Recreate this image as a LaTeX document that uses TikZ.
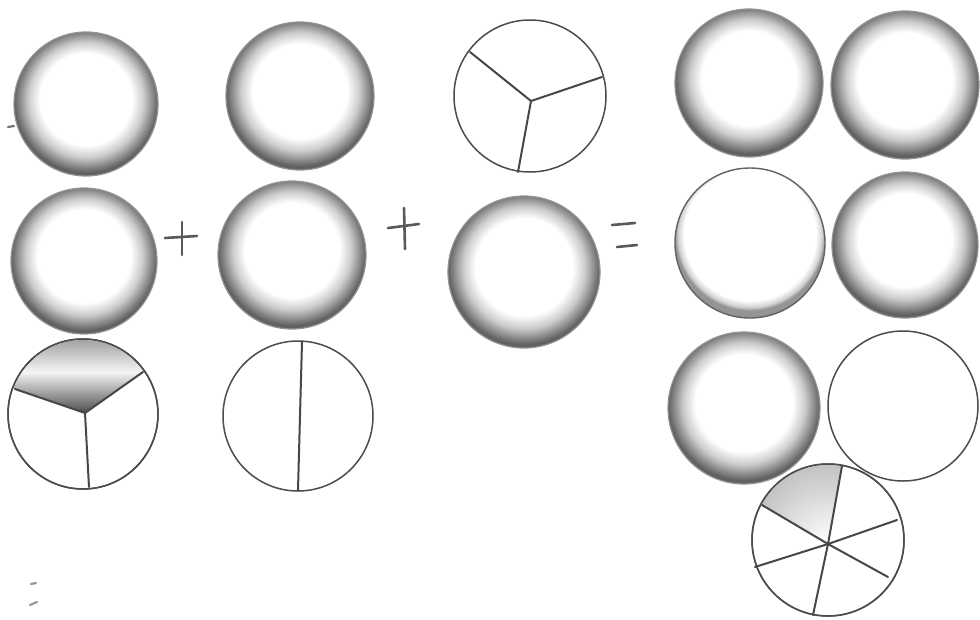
\documentclass[tikz,border=0pt]{standalone}
\pgfdeclareradialshading{rim}{\pgfpoint{0bp}{2.5bp}}{color(0bp)=(white); color(16bp)=(white); color(20bp)=(black!20); color(23bp)=(black!45); color(25bp)=(black!62); color(50bp)=(black!62)}
\pgfdeclareradialshading{lowrim}{\pgfpoint{0bp}{5bp}}{color(0bp)=(white); color(22bp)=(white); color(24bp)=(black!18); color(25bp)=(black!42); color(50bp)=(black!42)}
\begin{document}
\begin{tikzpicture}[x=1pt,y=-1pt,line cap=round,line join=round]
\tikzset{
  disc/.style={circle,inner sep=0pt,minimum size=#1,shading=rim,draw=black!42,line width=1.2pt},
  lightdisc/.style={circle,inner sep=0pt,minimum size=#1,shading=lowrim,draw=black!62,line width=1.4pt},
  plain/.style={circle,inner sep=0pt,minimum size=#1,fill=white,draw=black!70,line width=1.5pt},
  spoke/.style={draw=black!72,line width=2pt},
  sign/.style={draw=black!65,line width=2.6pt},
  smudge/.style={draw=black!55,line width=2.2pt}
}
\useasboundingbox (0,0) rectangle (980,619);
\fill[white] (0,0) rectangle (980,619);

% column 1
\node[disc=144pt] (A1) at (86,104) {};
\node[disc=146pt] (A2) at (84,261) {};
\node[plain=150pt] (A3) at (83,414) {};
\coordinate (a3c) at (85,413);
\coordinate (a3l) at (15,389);
\coordinate (a3r) at (143,372);
\coordinate (a3b) at (89,487);
\begin{scope}
  \clip (83,414) circle (74);
  \clip (a3c) -- (-125,341) -- (-125,200) -- (259,200) -- (259,290) -- cycle;
  \shade[top color=black!38, bottom color=black!4] (0,338) rectangle (170,372);
  \shade[top color=black!4, bottom color=black!75] (0,372) rectangle (170,416);
\end{scope}
\draw[black!70,line width=1.5pt] (83,414) circle (75);
\draw[spoke] (a3c) -- (a3l);
\draw[spoke] (a3c) -- (a3r);
\draw[spoke] (a3c) -- (a3b);

% column 2
\node[disc=148pt] (B1) at (300,96) {};
\node[disc=148pt] (B2) at (292,255) {};
\node[plain=150pt] (B3) at (298,416) {};
\coordinate (b3t) at (302,342);
\coordinate (b3b) at (298,490);
\draw[spoke] (b3t) -- (b3b);

% column 3
\node[plain=152pt] (C1) at (530,96) {};
\coordinate (c1c) at (531,101);
\coordinate (c1a) at (470,52);
\coordinate (c1b) at (602,77);
\coordinate (c1d) at (518,172);
\draw[spoke] (c1c) -- (c1a);
\draw[spoke] (c1c) -- (c1b);
\draw[spoke] (c1c) -- (c1d);
\node[disc=152pt] (C2) at (524,272) {};

% right group
\node[disc=148pt] (D1) at (749,83) {};
\node[disc=148pt] (D2) at (905,85) {};
\node[lightdisc=150pt] (D3) at (750,243) {};
\node[disc=146pt] (D4) at (905,245) {};
\node[disc=152pt] (D5) at (744,408) {};
\node[plain=150pt] (D6) at (903,406) {};
\node[plain=152pt] (E) at (828,540) {};
\coordinate (ec) at (828,544);
\begin{scope}
  \clip (828,540) circle (75);
  \clip (ec) -- (696,466) -- (696,388) -- (856,388) -- cycle;
  \shade[inner color=white, outer color=black!30] (ec) circle (100);
\end{scope}
\draw[black!70,line width=1.5pt] (828,540) circle (76);
\coordinate (e1) at (842,466);
\coordinate (e2) at (813,615);
\coordinate (e3) at (897,520);
\coordinate (e4) at (755,567);
\coordinate (e5) at (762,505);
\coordinate (e6) at (888,577);
\draw[spoke] (e1) -- (ec) -- (e2);
\draw[spoke] (e3) -- (ec) -- (e4);
\draw[spoke] (e5) -- (ec) -- (e6);

% operators
\coordinate (p1l) at (165,238); \coordinate (p1r) at (197,236);
\coordinate (p1t) at (182,222); \coordinate (p1b) at (182,255);
\draw[sign] (p1l) -- (p1r);
\draw[sign] (p1t) -- (p1b);
\coordinate (p2l) at (388,228); \coordinate (p2r) at (419,224);
\coordinate (p2t) at (404,208); \coordinate (p2b) at (405,249);
\draw[sign] (p2l) -- (p2r);
\draw[sign] (p2t) -- (p2b);
\coordinate (q1l) at (612,225); \coordinate (q1r) at (635,223);
\coordinate (q2l) at (617,247); \coordinate (q2r) at (637,245);
\draw[sign] (q1l) -- (q1r);
\draw[sign] (q2l) -- (q2r);

% stray marks
\coordinate (s1a) at (8,127); \coordinate (s1b) at (14,126);
\draw[smudge] (s1a) -- (s1b);
\coordinate (s2a) at (31,584); \coordinate (s2b) at (36,583);
\draw[smudge,black!40] (s2a) -- (s2b);
\coordinate (s3a) at (30,605); \coordinate (s3b) at (37,602);
\draw[smudge,black!40] (s3a) -- (s3b);
\end{tikzpicture}
\end{document}
